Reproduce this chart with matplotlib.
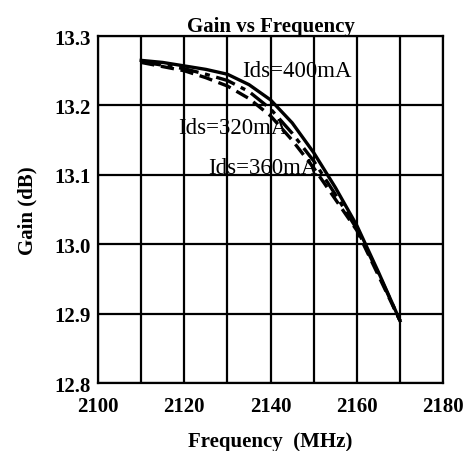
import numpy as np
import matplotlib.pyplot as plt

freq = [2110, 2115, 2120, 2125, 2130, 2135, 2140, 2145, 2150, 2155, 2160, 2165, 2170]
gain_400 = [13.265, 13.262, 13.257, 13.252, 13.245, 13.230, 13.208, 13.175, 13.132, 13.082, 13.027, 12.960, 12.890]
gain_320 = [13.262, 13.256, 13.250, 13.240, 13.228, 13.210, 13.185, 13.150, 13.110, 13.065, 13.020, 12.955, 12.890]
gain_360 = [13.263, 13.258, 13.253, 13.245, 13.236, 13.220, 13.195, 13.160, 13.120, 13.072, 13.022, 12.958, 12.890]

plt.rcParams['font.family'] = ['Liberation Serif', 'DejaVu Serif']

fig = plt.figure(figsize=(4.76, 4.52), dpi=100)
ax = fig.add_axes([0.206, 0.150, 0.725, 0.768])

ax.plot(freq, gain_400, color="black", lw=2.4, ls="-")
ax.plot(freq, gain_320, color="black", lw=2.4, ls=(0, (4, 2)))
ax.plot(freq, gain_360, color="black", lw=2.4, ls=(0, (6, 2, 1.5, 2)))

ax.text(2133.5, 13.250, "Ids=400mA", fontsize=16.5, va="center", ha="left")
ax.text(2118.5, 13.168, "Ids=320mA", fontsize=16.5, va="center", ha="left")
ax.text(2125.5, 13.111, "Ids=360mA", fontsize=16.5, va="center", ha="left")

ax.set_xlim(2100, 2180)
ax.set_ylim(12.8, 13.3)
ax.set_xticks(np.arange(2100, 2181, 20))
ax.set_xticks(np.arange(2100, 2181, 10), minor=True)
ax.set_yticks(np.arange(12.8, 13.31, 0.1))
ax.set_yticklabels(["12.8", "12.9", "13.0", "13.1", "13.2", "13.3"])
ax.grid(True, which="both", color="black", lw=1.6)
ax.tick_params(which="both", length=0, labelsize=15, pad=5)
ax.tick_params(axis="x", which="both", pad=9)
for lab in ax.get_xticklabels() + ax.get_yticklabels():
    lab.set_fontweight("bold")
for s in ax.spines.values():
    s.set_linewidth(1.6)

ax.set_title("Gain vs Frequency", fontsize=15, fontweight="bold", pad=3)
ax.set_xlabel("Frequency  (MHz)", fontsize=15, fontweight="bold", labelpad=11)
ax.set_ylabel("Gain (dB)", fontsize=15, fontweight="bold", labelpad=12)

fig.savefig("out.png", dpi=100)
